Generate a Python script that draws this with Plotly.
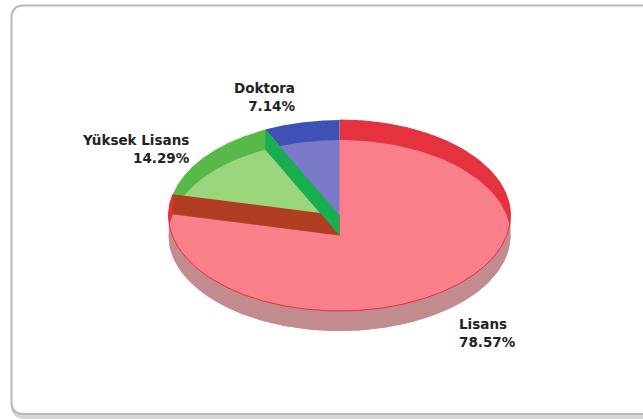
import numpy as np
import plotly.graph_objects as go

categories = ["Lisans", "Yüksek Lisans", "Doktora"]
percent_values = [78.57, 14.29, 7.14]
value_labels = ["78.57%", "14.29%", "7.14%"]

top_colors = ["#e4323f", "#57b947", "#3d52b4"]
face_colors = ["#f9808a", "#9bd67c", "#7b7ac8"]
wall_colors = ["#b23c22", "#16ae4e", None]
rim_color = "#c28b8e"

CX, CY, RX, RY, DEPTH = 339.5, 215.5, 171, 95.5, 20


def ell(deg, dy=0):
    t = np.radians(deg)
    return CX + RX * np.sin(t), CY + dy - RY * np.cos(t)


def sector(a, b, dy):
    t = np.linspace(a, b, 160)
    x, y = ell(t, dy)
    return [CX, *x, CX], [CY + dy, *y, CY + dy]


def poly(x, y, color, line=None, width=0):
    return go.Scatter(x=list(x), y=list(y), mode="lines", fill="toself", fillcolor=color,
                      line=dict(color=line or color, width=width), hoverinfo="skip", showlegend=False)


edges = np.concatenate([[0], np.cumsum(percent_values)]) * 3.6
fig = go.Figure()

# back: upper outline of the disc
for i in range(3):
    fig.add_trace(poly(*sector(edges[i], edges[i + 1], 0), top_colors[i]))
# see-through faces
for i in [1, 2, 0]:
    fig.add_trace(poly(*sector(edges[i], edges[i + 1], DEPTH), face_colors[i]))
# front rim
t = np.linspace(90, 270, 160)
xu, yu = ell(t)
xl, yl = ell(t, DEPTH)
fig.add_trace(poly([*xu, *xl[::-1]], [*yu, *yl[::-1]], rim_color))
# radial walls
for deg, col in [(edges[1], wall_colors[0]), (edges[2], wall_colors[1])]:
    xe, ye = ell(deg)
    fig.add_trace(poly([CX, xe, xe, CX, CX], [CY, ye, ye + DEPTH, CY + DEPTH, CY], col))
# red front edge
xr, yr = ell(np.linspace(0, 282.85, 300))
fig.add_trace(go.Scatter(x=xr, y=yr, mode="lines", line=dict(color="#e2303c", width=1),
                         hoverinfo="skip", showlegend=False))

label_pos = [(457, 333, "left"), (192, 149, "right"), (297, 97, "right")]
for (x, y, al), c, v in zip(label_pos, categories, value_labels):
    fig.add_annotation(x=x, y=y, text=f"<b>{c}<br>{v}</b>", showarrow=False, align=al,
                       xanchor=al, yanchor="middle",
                       font=dict(family="DejaVu Sans", size=13.5, color="#222222"))

shadow = ("M 24 417 L 670 417 M 24 417 Q 13 417 12.5 404")
fig.add_shape(type="path", path=shadow, line=dict(color="#d6d6d6", width=4), layer="below")
card = ("M 24 5.5 L 670 5.5 L 670 414 L 24 414 Q 11.5 414 11.5 402 "
        "L 11.5 18 Q 11.5 5.5 24 5.5 Z")
fig.add_shape(type="path", path=card, line=dict(color="#b8b8b8", width=2), fillcolor="white", layer="below")

fig.update_layout(
    width=643, height=419, margin=dict(l=0, r=0, t=0, b=0),
    paper_bgcolor="white", plot_bgcolor="white", showlegend=False,
    xaxis=dict(range=[0, 643], visible=False, fixedrange=True),
    yaxis=dict(range=[419, 0], visible=False, fixedrange=True),
)
fig.write_html("out.html", config={"displayModeBar": False},
               post_script="document.body.style.margin='0';document.documentElement.style.overflow='hidden';")
